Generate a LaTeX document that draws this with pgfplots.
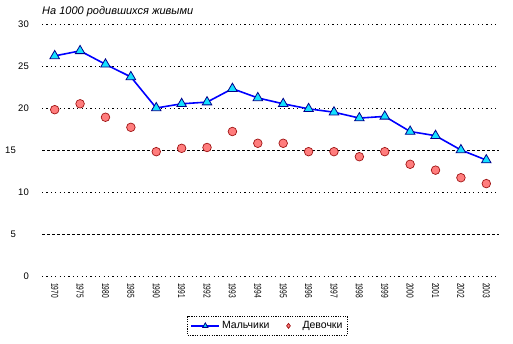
\documentclass[border=0pt]{standalone}
\usepackage{fontspec}
\setmainfont{Liberation Sans}
\usepackage{pgfplots}
\pgfplotsset{compat=1.18}
\definecolor{boyline}{RGB}{0,0,255}
\definecolor{boyfill}{RGB}{20,225,255}
\definecolor{boyedge}{RGB}{0,0,140}
\definecolor{girlfill}{RGB}{255,125,125}
\definecolor{girledge}{RGB}{160,20,20}
\begin{document}
\begin{tikzpicture}
\useasboundingbox (-42pt,-68pt) rectangle (471pt,276pt);
\begin{axis}[
  at={(0pt,0pt)}, anchor=south west,
  scale only axis, width=457pt, height=252pt,
  xmin=-0.5, xmax=17.5, ymin=0, ymax=30,
  axis line style={draw=none},
  major tick length=0pt,
  xtick=data,
  xticklabels={1970,1975,1980,1985,1990,1991,1992,1993,1994,1995,1996,1997,1998,1999,2000,2001,2002,2003},
  xticklabel style={rotate=-90, xshift=7pt, xscale=0.66, anchor=west, font=\fontsize{10}{11}\selectfont, inner sep=0pt},
  ytick={0,10,20,25,30},
  extra y ticks={5,15},
  yticklabel style={font=\fontsize{9.5}{10}\selectfont, anchor=east, inner sep=0pt, xshift=-13pt},
  extra y tick style={yticklabel style={font=\fontsize{9.5}{10}\selectfont, anchor=east, inner sep=0pt, xshift=-13pt}, grid style={black, line width=0.6pt, dash pattern=on 3pt off 2pt}},
  /pgf/number format/assume math mode=true,
  ymajorgrids,
  grid style={black, line width=0.6pt, dash pattern=on 1.2pt off 3.2pt},
  legend columns=2,
  legend style={at={(axis description cs:0.4934,-0.198)}, anchor=center,
    draw=black, line width=0.6pt, dash pattern=on 1.2pt off 1.2pt,
    font=\fontsize{10.5}{12}\selectfont, inner xsep=3pt, inner ysep=3pt,
    /tikz/every even column/.append style={column sep=14pt}},
  legend cell align=left,
]
\addplot[color=boyline, line width=1.6pt, mark=triangle*, mark size=5.5pt,
  mark options={solid, fill=boyfill, draw=boyedge, line width=0.8pt},
  legend image code/.code={\draw[mark repeat=2, mark phase=2, mark size=3pt] plot coordinates {(0pt,0pt) (14pt,0pt) (28pt,0pt)};}]
coordinates {
(0,26.2) (1,26.8) (2,25.2) (3,23.7) (4,20.0) (5,20.5) (6,20.7) (7,22.3) (8,21.2)
(9,20.5) (10,19.9) (11,19.5) (12,18.8) (13,19.0) (14,17.2) (15,16.7) (16,15.0) (17,13.8)
};
\addlegendentry{Мальчики}
\addplot[only marks, mark=*, mark size=4.3pt,
  mark options={solid, fill=girlfill, draw=girledge, line width=0.7pt},
  legend image code/.code={\draw[mark size=2.5pt, mark=diamond*] plot coordinates {(3pt,0pt)}; \path[draw=none, fill=none] (0pt,0pt) (15pt,0pt);}]
coordinates {
(0,19.8) (1,20.5) (2,18.9) (3,17.7) (4,14.8) (5,15.2) (6,15.3) (7,17.2) (8,15.8)
(9,15.8) (10,14.8) (11,14.8) (12,14.2) (13,14.8) (14,13.3) (15,12.6) (16,11.7) (17,11.0)
};
\addlegendentry{Девочки}
\end{axis}
\node[anchor=west, inner sep=0pt, font=\fontsize{11}{12}\selectfont\itshape] at (0pt,264pt) {На 1000 родившихся живыми};
\end{tikzpicture}
\end{document}
